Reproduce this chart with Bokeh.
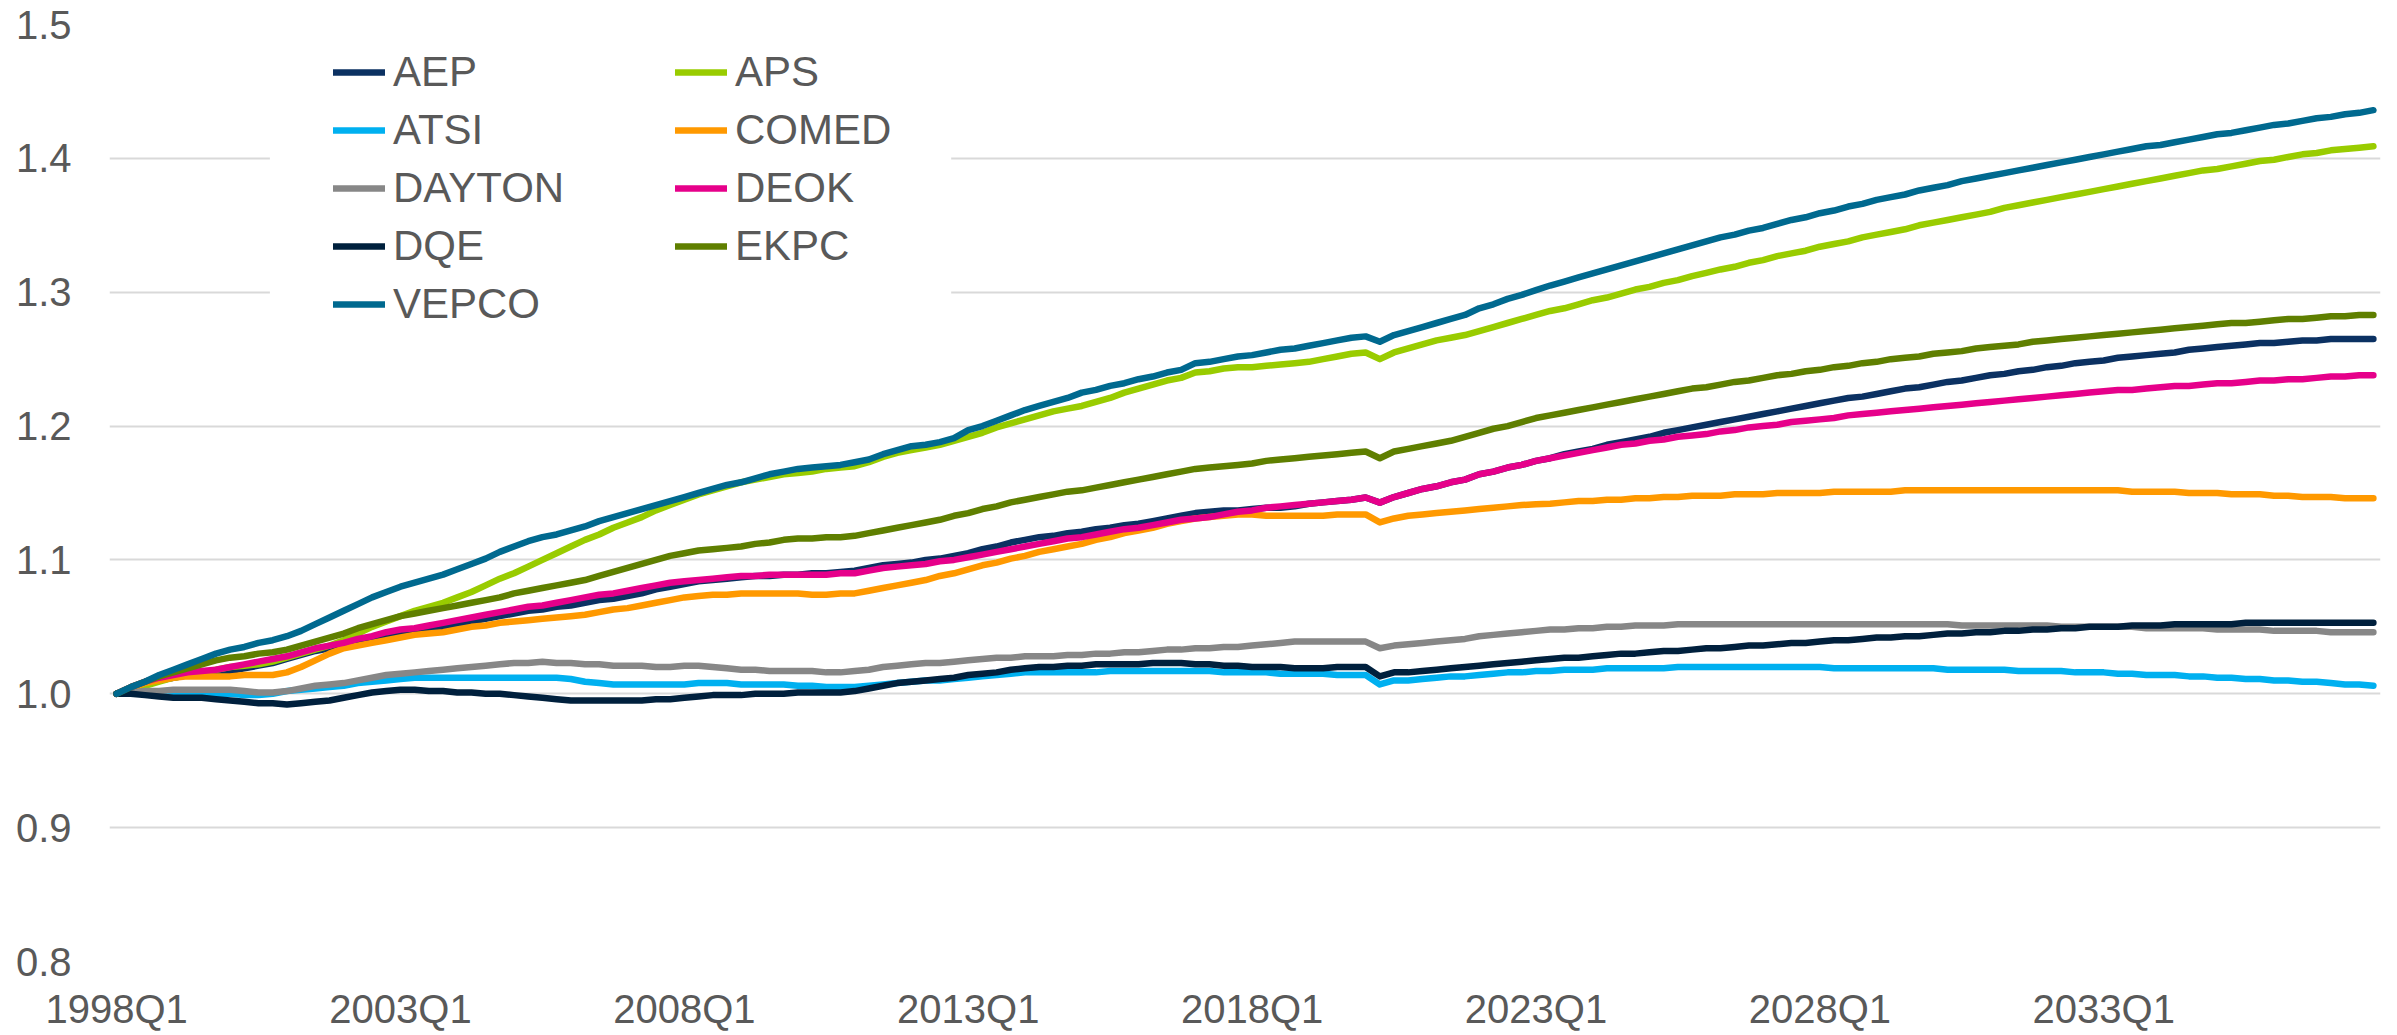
from bokeh.plotting import figure
from bokeh.models import Range1d, FixedTicker, Legend, LegendItem, BoxAnnotation
from bokeh.embed import file_html
from bokeh.resources import INLINE

# ---------------- data ----------------
quarters = [f"{y}Q{q}" for y in range(1998, 2038) for q in range(1, 5)]
tick_labels = ["1998Q1", "2003Q1", "2008Q1", "2013Q1", "2018Q1", "2023Q1", "2028Q1", "2033Q1"]
y_ticks = [0.8, 0.9, 1.0, 1.1, 1.2, 1.3, 1.4, 1.5]

AEP = [
    1.000, 1.004, 1.007, 1.010, 1.012, 1.014, 1.015, 1.016,
    1.017, 1.019, 1.021, 1.023, 1.026, 1.029, 1.032, 1.034,
    1.036, 1.039, 1.041, 1.044, 1.046, 1.047, 1.049, 1.050,
    1.052, 1.054, 1.056, 1.058, 1.060, 1.062, 1.063, 1.065,
    1.066, 1.068, 1.070, 1.071, 1.073, 1.075, 1.078, 1.080,
    1.082, 1.084, 1.085, 1.086, 1.087, 1.088, 1.088, 1.089,
    1.089, 1.090, 1.090, 1.091, 1.092, 1.094, 1.096, 1.097,
    1.098, 1.100, 1.101, 1.103, 1.105, 1.108, 1.110, 1.113,
    1.115, 1.117, 1.118, 1.120, 1.121, 1.123, 1.124, 1.126,
    1.127, 1.129, 1.131, 1.133, 1.135, 1.136, 1.137, 1.137,
    1.138, 1.139, 1.139, 1.140, 1.142, 1.143, 1.144, 1.145,
    1.1466, 1.1428, 1.147, 1.150, 1.153, 1.155, 1.158, 1.160,
    1.164, 1.166, 1.169, 1.171, 1.174, 1.176, 1.179, 1.181,
    1.183, 1.186, 1.188, 1.190, 1.192, 1.195, 1.197, 1.199,
    1.201, 1.203, 1.205, 1.207, 1.209, 1.211, 1.213, 1.215,
    1.217, 1.219, 1.221, 1.222, 1.224, 1.226, 1.228, 1.229,
    1.231, 1.233, 1.234, 1.236, 1.238, 1.239, 1.241, 1.242,
    1.244, 1.245, 1.247, 1.248, 1.249, 1.251, 1.252, 1.253,
    1.254, 1.255, 1.257, 1.258, 1.259, 1.260, 1.261, 1.262,
    1.262, 1.263, 1.264, 1.264, 1.265, 1.265, 1.265, 1.265,
]
APS = [
    1.000, 1.003, 1.006, 1.009, 1.012, 1.014, 1.016, 1.018,
    1.020, 1.021, 1.022, 1.024, 1.027, 1.030, 1.033, 1.036,
    1.040, 1.045, 1.050, 1.054, 1.058, 1.062, 1.065, 1.068,
    1.072, 1.076, 1.081, 1.086, 1.090, 1.095, 1.100, 1.105,
    1.110, 1.115, 1.119, 1.124, 1.128, 1.132, 1.137, 1.141,
    1.145, 1.149, 1.152, 1.155, 1.158, 1.160, 1.162, 1.164,
    1.165, 1.166, 1.168, 1.169, 1.170, 1.173, 1.177, 1.180,
    1.182, 1.184, 1.186, 1.189, 1.192, 1.195, 1.199, 1.202,
    1.205, 1.208, 1.211, 1.213, 1.215, 1.218, 1.221, 1.225,
    1.228, 1.231, 1.234, 1.236, 1.240, 1.241, 1.243, 1.244,
    1.244, 1.245, 1.246, 1.247, 1.248, 1.250, 1.252, 1.254,
    1.255, 1.250, 1.255, 1.258, 1.261, 1.264, 1.266, 1.268,
    1.271, 1.274, 1.277, 1.280, 1.283, 1.286, 1.288, 1.291,
    1.294, 1.296, 1.299, 1.302, 1.304, 1.307, 1.309, 1.312,
    1.3145, 1.317, 1.319, 1.322, 1.324, 1.327, 1.329, 1.331,
    1.334, 1.336, 1.338, 1.341, 1.343, 1.345, 1.347, 1.350,
    1.352, 1.354, 1.356, 1.358, 1.360, 1.363, 1.365, 1.367,
    1.369, 1.371, 1.373, 1.375, 1.377, 1.379, 1.381, 1.383,
    1.385, 1.387, 1.389, 1.391, 1.392, 1.394, 1.396, 1.398,
    1.399, 1.401, 1.403, 1.404, 1.406, 1.407, 1.408, 1.409,
]
ATSI = [
    1.000, 1.000, 1.001, 1.001, 1.001, 1.001, 1.001, 1.000,
    1.000, 0.999, 0.999, 1.000, 1.002, 1.003, 1.004, 1.005,
    1.006, 1.008, 1.009, 1.010, 1.011, 1.012, 1.012, 1.012,
    1.012, 1.012, 1.012, 1.012, 1.012, 1.012, 1.012, 1.012,
    1.011, 1.009, 1.008, 1.007, 1.007, 1.007, 1.007, 1.007,
    1.007, 1.008, 1.008, 1.008, 1.007, 1.007, 1.007, 1.007,
    1.006, 1.006, 1.005, 1.005, 1.005, 1.006, 1.007, 1.008,
    1.009, 1.010, 1.010, 1.011, 1.012, 1.013, 1.014, 1.015,
    1.016, 1.016, 1.016, 1.016, 1.016, 1.016, 1.017, 1.017,
    1.017, 1.017, 1.017, 1.017, 1.017, 1.017, 1.016, 1.016,
    1.016, 1.016, 1.015, 1.015, 1.015, 1.015, 1.014, 1.014,
    1.014, 1.007, 1.010, 1.010, 1.011, 1.012, 1.013, 1.013,
    1.014, 1.015, 1.016, 1.016, 1.017, 1.017, 1.018, 1.018,
    1.018, 1.019, 1.019, 1.019, 1.019, 1.019, 1.020, 1.020,
    1.020, 1.020, 1.020, 1.020, 1.020, 1.020, 1.020, 1.020,
    1.020, 1.019, 1.019, 1.019, 1.019, 1.019, 1.019, 1.019,
    1.019, 1.018, 1.018, 1.018, 1.018, 1.018, 1.017, 1.017,
    1.017, 1.017, 1.016, 1.016, 1.016, 1.015, 1.015, 1.014,
    1.014, 1.014, 1.013, 1.013, 1.012, 1.012, 1.011, 1.011,
    1.010, 1.010, 1.009, 1.009, 1.008, 1.007, 1.007, 1.006,
]
COMED = [
    1.000, 1.004, 1.008, 1.010, 1.012, 1.013, 1.013, 1.013,
    1.013, 1.014, 1.014, 1.014, 1.016, 1.020, 1.025, 1.030,
    1.034, 1.036, 1.038, 1.040, 1.042, 1.044, 1.045, 1.046,
    1.048, 1.050, 1.051, 1.053, 1.054, 1.055, 1.056, 1.057,
    1.058, 1.059, 1.061, 1.063, 1.064, 1.066, 1.068, 1.070,
    1.072, 1.073, 1.074, 1.074, 1.075, 1.075, 1.075, 1.075,
    1.075, 1.074, 1.074, 1.075, 1.075, 1.077, 1.079, 1.081,
    1.083, 1.085, 1.088, 1.090, 1.093, 1.096, 1.098, 1.101,
    1.103, 1.106, 1.108, 1.110, 1.112, 1.115, 1.117, 1.120,
    1.122, 1.124, 1.127, 1.129, 1.131, 1.132, 1.133, 1.134,
    1.134, 1.133, 1.133, 1.133, 1.133, 1.133, 1.134, 1.134,
    1.134, 1.128, 1.131, 1.133, 1.134, 1.135, 1.136, 1.137,
    1.138, 1.139, 1.140, 1.141, 1.1416, 1.142, 1.143, 1.144,
    1.144, 1.145, 1.145, 1.146, 1.146, 1.147, 1.147, 1.148,
    1.148, 1.148, 1.149, 1.149, 1.149, 1.150, 1.150, 1.150,
    1.150, 1.151, 1.151, 1.151, 1.151, 1.151, 1.152, 1.152,
    1.152, 1.152, 1.152, 1.152, 1.152, 1.152, 1.152, 1.152,
    1.152, 1.152, 1.152, 1.152, 1.152, 1.152, 1.151, 1.151,
    1.151, 1.151, 1.150, 1.150, 1.150, 1.149, 1.149, 1.149,
    1.148, 1.148, 1.147, 1.147, 1.147, 1.146, 1.146, 1.146,
]
DAYTON = [
    1.000, 1.001, 1.002, 1.002, 1.003, 1.003, 1.003, 1.003,
    1.003, 1.002, 1.001, 1.001, 1.002, 1.004, 1.006, 1.007,
    1.008, 1.010, 1.012, 1.014, 1.015, 1.016, 1.017, 1.018,
    1.019, 1.020, 1.021, 1.022, 1.023, 1.023, 1.024, 1.023,
    1.023, 1.022, 1.022, 1.021, 1.021, 1.021, 1.020, 1.020,
    1.021, 1.021, 1.020, 1.019, 1.018, 1.018, 1.017, 1.017,
    1.017, 1.017, 1.016, 1.016, 1.017, 1.018, 1.020, 1.021,
    1.022, 1.023, 1.023, 1.024, 1.025, 1.026, 1.027, 1.027,
    1.028, 1.028, 1.028, 1.029, 1.029, 1.030, 1.030, 1.031,
    1.031, 1.032, 1.033, 1.033, 1.034, 1.034, 1.035, 1.035,
    1.036, 1.037, 1.038, 1.039, 1.039, 1.039, 1.039, 1.039,
    1.039, 1.034, 1.036, 1.037, 1.038, 1.039, 1.040, 1.041,
    1.043, 1.044, 1.045, 1.046, 1.047, 1.048, 1.048, 1.049,
    1.049, 1.050, 1.050, 1.051, 1.051, 1.051, 1.052, 1.052,
    1.052, 1.052, 1.052, 1.052, 1.052, 1.052, 1.052, 1.052,
    1.052, 1.052, 1.052, 1.052, 1.052, 1.052, 1.052, 1.052,
    1.052, 1.052, 1.051, 1.051, 1.051, 1.051, 1.051, 1.051,
    1.051, 1.050, 1.050, 1.050, 1.050, 1.050, 1.050, 1.049,
    1.049, 1.049, 1.049, 1.049, 1.048, 1.048, 1.048, 1.048,
    1.047, 1.047, 1.047, 1.047, 1.046, 1.046, 1.046, 1.046,
]
DEOK = [
    1.000, 1.005, 1.009, 1.012, 1.014, 1.016, 1.017, 1.018,
    1.020, 1.022, 1.024, 1.026, 1.028, 1.031, 1.034, 1.036,
    1.038, 1.041, 1.043, 1.046, 1.048, 1.049, 1.051, 1.053,
    1.055, 1.057, 1.059, 1.061, 1.063, 1.065, 1.066, 1.068,
    1.070, 1.072, 1.074, 1.075, 1.077, 1.079, 1.081, 1.083,
    1.084, 1.085, 1.086, 1.087, 1.088, 1.088, 1.089, 1.089,
    1.089, 1.089, 1.089, 1.090, 1.090, 1.092, 1.094, 1.095,
    1.096, 1.097, 1.099, 1.100, 1.102, 1.104, 1.106, 1.108,
    1.110, 1.112, 1.114, 1.116, 1.117, 1.119, 1.121, 1.123,
    1.124, 1.126, 1.128, 1.130, 1.131, 1.132, 1.134, 1.136,
    1.137, 1.139, 1.140, 1.141, 1.142, 1.143, 1.144, 1.145,
    1.1466, 1.1428, 1.147, 1.150, 1.153, 1.155, 1.158, 1.160,
    1.164, 1.166, 1.169, 1.171, 1.174, 1.176, 1.178, 1.180,
    1.182, 1.184, 1.186, 1.187, 1.189, 1.190, 1.192, 1.193,
    1.194, 1.196, 1.197, 1.199, 1.200, 1.201, 1.203, 1.204,
    1.205, 1.206, 1.208, 1.209, 1.210, 1.211, 1.212, 1.213,
    1.214, 1.215, 1.216, 1.217, 1.218, 1.219, 1.220, 1.221,
    1.222, 1.223, 1.224, 1.225, 1.226, 1.227, 1.227, 1.228,
    1.229, 1.230, 1.230, 1.231, 1.232, 1.232, 1.233, 1.234,
    1.234, 1.235, 1.235, 1.236, 1.237, 1.237, 1.238, 1.238,
]
DQE = [
    1.000, 1.000, 0.999, 0.998, 0.997, 0.997, 0.997, 0.996,
    0.995, 0.994, 0.993, 0.993, 0.992, 0.993, 0.994, 0.995,
    0.997, 0.999, 1.001, 1.002, 1.003, 1.003, 1.002, 1.002,
    1.001, 1.001, 1.000, 1.000, 0.999, 0.998, 0.997, 0.996,
    0.995, 0.995, 0.995, 0.995, 0.995, 0.995, 0.996, 0.996,
    0.997, 0.998, 0.999, 0.999, 0.999, 1.000, 1.000, 1.000,
    1.001, 1.001, 1.001, 1.001, 1.002, 1.004, 1.006, 1.008,
    1.009, 1.010, 1.011, 1.012, 1.014, 1.015, 1.016, 1.018,
    1.019, 1.020, 1.020, 1.021, 1.021, 1.022, 1.022, 1.022,
    1.022, 1.023, 1.023, 1.023, 1.022, 1.022, 1.021, 1.021,
    1.020, 1.020, 1.020, 1.019, 1.019, 1.019, 1.020, 1.020,
    1.020, 1.013, 1.016, 1.016, 1.017, 1.018, 1.019, 1.020,
    1.021, 1.022, 1.023, 1.024, 1.025, 1.026, 1.027, 1.027,
    1.028, 1.029, 1.030, 1.030, 1.031, 1.032, 1.032, 1.033,
    1.034, 1.034, 1.035, 1.036, 1.036, 1.037, 1.038, 1.038,
    1.039, 1.040, 1.040, 1.041, 1.042, 1.042, 1.043, 1.043,
    1.044, 1.045, 1.045, 1.046, 1.046, 1.047, 1.047, 1.048,
    1.048, 1.049, 1.049, 1.050, 1.050, 1.050, 1.051, 1.051,
    1.051, 1.052, 1.052, 1.052, 1.052, 1.052, 1.053, 1.053,
    1.053, 1.053, 1.053, 1.053, 1.053, 1.053, 1.053, 1.053,
]
EKPC = [
    1.000, 1.005, 1.009, 1.013, 1.016, 1.019, 1.022, 1.025,
    1.027, 1.028, 1.030, 1.031, 1.033, 1.036, 1.039, 1.042,
    1.045, 1.049, 1.052, 1.055, 1.058, 1.060, 1.062, 1.064,
    1.066, 1.068, 1.070, 1.072, 1.075, 1.077, 1.079, 1.081,
    1.083, 1.085, 1.088, 1.091, 1.094, 1.097, 1.100, 1.103,
    1.105, 1.107, 1.108, 1.109, 1.110, 1.112, 1.113, 1.115,
    1.116, 1.116, 1.117, 1.117, 1.118, 1.120, 1.122, 1.124,
    1.126, 1.128, 1.130, 1.133, 1.135, 1.138, 1.140, 1.143,
    1.145, 1.147, 1.149, 1.151, 1.152, 1.154, 1.156, 1.158,
    1.160, 1.162, 1.164, 1.166, 1.168, 1.169, 1.170, 1.171,
    1.172, 1.174, 1.175, 1.176, 1.177, 1.178, 1.179, 1.180,
    1.181, 1.176, 1.181, 1.183, 1.185, 1.187, 1.189, 1.192,
    1.195, 1.198, 1.200, 1.203, 1.206, 1.208, 1.210, 1.212,
    1.214, 1.216, 1.218, 1.220, 1.222, 1.224, 1.226, 1.228,
    1.229, 1.231, 1.233, 1.234, 1.236, 1.238, 1.239, 1.241,
    1.242, 1.244, 1.245, 1.247, 1.248, 1.250, 1.251, 1.252,
    1.254, 1.255, 1.256, 1.258, 1.259, 1.260, 1.261, 1.263,
    1.264, 1.265, 1.266, 1.267, 1.268, 1.269, 1.270, 1.271,
    1.272, 1.273, 1.274, 1.275, 1.276, 1.277, 1.277, 1.278,
    1.279, 1.280, 1.280, 1.281, 1.282, 1.282, 1.283, 1.283,
]
VEPCO = [
    1.000, 1.005, 1.009, 1.014, 1.018, 1.022, 1.026, 1.030,
    1.033, 1.035, 1.038, 1.040, 1.043, 1.047, 1.052, 1.057,
    1.062, 1.067, 1.072, 1.076, 1.080, 1.083, 1.086, 1.089,
    1.093, 1.097, 1.101, 1.106, 1.110, 1.114, 1.117, 1.119,
    1.122, 1.125, 1.129, 1.132, 1.135, 1.138, 1.141, 1.144,
    1.147, 1.150, 1.153, 1.156, 1.158, 1.161, 1.164, 1.166,
    1.168, 1.169, 1.170, 1.171, 1.173, 1.175, 1.179, 1.182,
    1.185, 1.186, 1.188, 1.191, 1.197, 1.200, 1.204, 1.208,
    1.212, 1.215, 1.218, 1.221, 1.225, 1.227, 1.230, 1.232,
    1.235, 1.237, 1.240, 1.242, 1.247, 1.248, 1.250, 1.252,
    1.253, 1.255, 1.257, 1.258, 1.260, 1.262, 1.264, 1.266,
    1.267, 1.263, 1.268, 1.271, 1.274, 1.277, 1.280, 1.283,
    1.288, 1.291, 1.295, 1.298, 1.3015, 1.305, 1.308, 1.311,
    1.314, 1.317, 1.320, 1.323, 1.326, 1.329, 1.332, 1.335,
    1.338, 1.341, 1.343, 1.346, 1.348, 1.351, 1.354, 1.356,
    1.359, 1.361, 1.364, 1.366, 1.369, 1.371, 1.373, 1.376,
    1.378, 1.380, 1.383, 1.385, 1.387, 1.389, 1.391, 1.393,
    1.395, 1.397, 1.399, 1.401, 1.403, 1.405, 1.407, 1.409,
    1.410, 1.412, 1.414, 1.416, 1.418, 1.419, 1.421, 1.423,
    1.425, 1.426, 1.428, 1.430, 1.431, 1.433, 1.434, 1.436,
]

series_names = ["AEP", "APS", "ATSI", "COMED", "DAYTON", "DEOK", "DQE", "EKPC", "VEPCO"]
series_values = [AEP, APS, ATSI, COMED, DAYTON, DEOK, DQE, EKPC, VEPCO]
series_colors = ["#0B3162", "#99CC00", "#00B0F0", "#FF9900", "#878787",
                 "#E6008A", "#00203D", "#5F7F00", "#00698F"]
legend_col1 = ["AEP", "ATSI", "DAYTON", "DQE", "VEPCO"]
legend_col2 = ["APS", "COMED", "DEOK", "EKPC"]

# ---------------- figure ----------------
TEXT = "#595959"
FONT = "Liberation Sans"
x_idx = list(range(len(quarters)))

p = figure(width=2395, height=1033, output_backend="svg", toolbar_location=None,
           x_range=Range1d(-0.5, len(quarters) - 0.5), y_range=Range1d(0.8, 1.5),
           min_border_left=109, min_border_right=15, min_border_top=24, min_border_bottom=10)
p.outline_line_color = None
p.background_fill_color = "white"
p.border_fill_color = "white"

p.xgrid.visible = False
p.ygrid.grid_line_color = "#D9D9D9"
p.ygrid.grid_line_width = 2
p.ygrid.ticker = FixedTicker(ticks=y_ticks)

p.yaxis.ticker = FixedTicker(ticks=y_ticks)
p.yaxis.major_label_overrides = {t: f"{t:.1f}" for t in y_ticks}
p.xaxis.ticker = FixedTicker(ticks=[quarters.index(t) for t in tick_labels])
p.xaxis.major_label_overrides = {quarters.index(t): t for t in tick_labels}
for ax in (p.xaxis[0], p.yaxis[0]):
    ax.axis_line_color = None
    ax.major_tick_line_color = None
    ax.minor_tick_line_color = None
    ax.major_tick_out = 0
    ax.major_tick_in = 0
    ax.minor_tick_out = 0
    ax.major_label_text_font = FONT
    ax.major_label_text_font_size = "40px"
    ax.major_label_text_color = TEXT
p.yaxis.major_label_standoff = 38
p.xaxis.major_label_standoff = 25

renderers = {}
for name, vals, col in zip(series_names, series_values, series_colors):
    renderers[name] = p.line(x_idx, vals, line_color=col, line_width=6.5,
                             line_cap="round", line_join="round")

# white panel behind the legend (hides the grid lines there)
p.add_layout(BoxAnnotation(left=10.8, right=58.8, top=1.488, bottom=1.25,
                           fill_color="white", fill_alpha=1.0, line_color=None))

def make_legend(names, loc):
    return Legend(items=[LegendItem(label=n, renderers=[renderers[n]]) for n in names],
                  location=loc, orientation="vertical", padding=0, margin=0, spacing=0,
                  glyph_width=52, glyph_height=58, label_height=58, label_standoff=8,
                  label_text_font=FONT, label_text_font_size="42px",
                  label_text_color=TEXT, background_fill_alpha=0,
                  border_line_color=None)

p.add_layout(make_legend(legend_col1, (224, 628)))
p.add_layout(make_legend(legend_col2, (566, 686)))

open("out.html", "w").write(file_html(p, INLINE))
